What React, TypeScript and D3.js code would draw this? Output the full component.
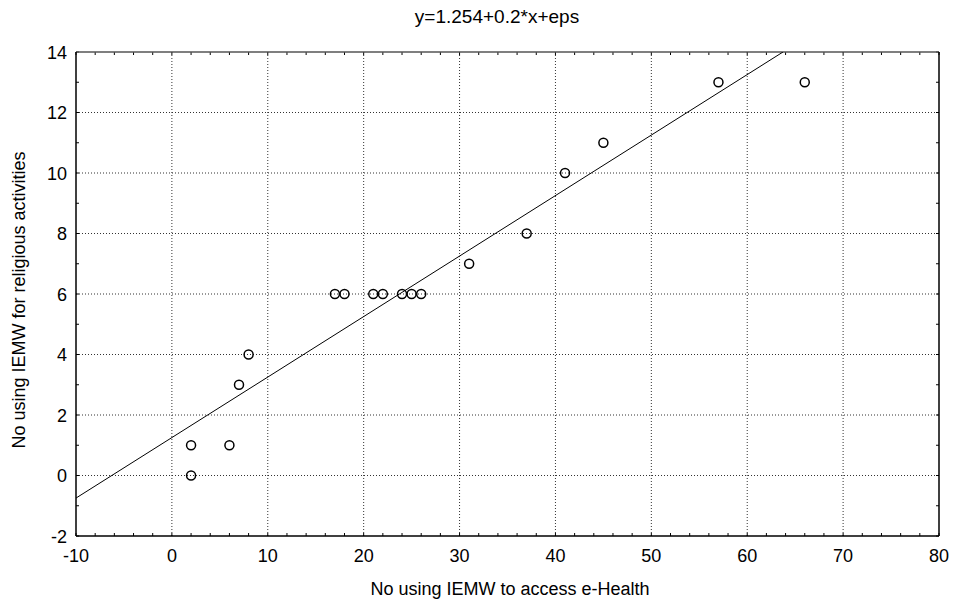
import React from "react";
import * as d3 from "d3";

const xValues = [2, 2, 6, 7, 8, 17, 18, 21, 22, 24, 25, 26, 31, 37, 41, 45, 57, 66];
const yValues = [1, 0, 1, 3, 4, 6, 6, 6, 6, 6, 6, 6, 7, 8, 10, 11, 13, 13];
const xTicks = [-10, 0, 10, 20, 30, 40, 50, 60, 70, 80];
const yTicks = [-2, 0, 2, 4, 6, 8, 10, 12, 14];
const intercept = 1.254;
const slope = 0.2;
const title = "y=1.254+0.2*x+eps";
const xLabel = "No using IEMW to access e-Health";
const yLabel = "No using IEMW for religious activities";

export default function App() {
  const W = 954, H = 605;
  const L = 76, R = 939, T = 52, B = 536;
  const x = d3.scaleLinear().domain([-10, 80]).range([L, R]);
  const y = d3.scaleLinear().domain([-2, 14]).range([B, T]);
  const font = "Liberation Sans, Arial, sans-serif";
  const xMinor = d3.range(-10, 80.01, 2);
  const yMinor = d3.range(-2, 14.01, 1);
  const xEnd = (14 - intercept) / slope;
  const lineGen = d3.line<number>().x((d) => x(d)).y((d) => y(intercept + slope * d));
  return (
    <svg width={W} height={H} style={{ position: "absolute", left: 0, top: 0, background: "#fff" }}>
      <defs>
        <clipPath id="plot">
          <rect x={L} y={T} width={R - L} height={B - T} />
        </clipPath>
      </defs>
      <rect x={0} y={0} width={W} height={H} fill="#fff" />
      {xTicks.slice(1, -1).map((t) => (
        <line key={"gx" + t} x1={x(t)} x2={x(t)} y1={T} y2={B} stroke="#333" strokeWidth={1} strokeDasharray="1,2" />
      ))}
      {yTicks.slice(1, -1).map((t) => (
        <line key={"gy" + t} x1={L} x2={R} y1={y(t)} y2={y(t)} stroke="#333" strokeWidth={1} strokeDasharray="1,2" />
      ))}
      {xMinor.map((t) => (
        <g key={"tx" + t}>
          <line x1={x(t)} x2={x(t)} y1={B} y2={B - 3} stroke="#000" />
          <line x1={x(t)} x2={x(t)} y1={T} y2={T + 3} stroke="#000" />
        </g>
      ))}
      {yMinor.map((t) => (
        <g key={"ty" + t}>
          <line x1={L} x2={L + 3} y1={y(t)} y2={y(t)} stroke="#000" />
          <line x1={R} x2={R - 3} y1={y(t)} y2={y(t)} stroke="#000" />
        </g>
      ))}
      <line x1={L} x2={R} y1={T} y2={T} stroke="#555" strokeWidth={1.5} />
      <line x1={R} x2={R} y1={T} y2={B} stroke="#000" strokeWidth={1.5} />
      <line x1={L} x2={L} y1={T} y2={B} stroke="#000" strokeWidth={1.5} />
      <line x1={L} x2={R} y1={B} y2={B} stroke="#000" strokeWidth={1.5} />
      <path d={lineGen([-10, xEnd]) || ""} fill="none" stroke="#000" strokeWidth={1} clipPath="url(#plot)" />
      {xValues.map((v, i) => (
        <circle key={"p" + i} cx={x(v)} cy={y(yValues[i])} r={4.5} fill="none" stroke="#000" strokeWidth={1.5} />
      ))}
      {xTicks.map((t) => (
        <text key={"lx" + t} x={x(t)} y={562} textAnchor="middle" fontFamily={font} fontSize={18} fill="#000">
          {t}
        </text>
      ))}
      {yTicks.map((t) => (
        <text key={"ly" + t} x={67} y={y(t) + 6.5} textAnchor="end" fontFamily={font} fontSize={18} fill="#000">
          {t}
        </text>
      ))}
      <text x={497} y={23} textAnchor="middle" fontFamily={font} fontSize={19} fill="#000">{title}</text>
      <text x={510} y={595} textAnchor="middle" fontFamily={font} fontSize={18} fill="#000">{xLabel}</text>
      <text transform={`translate(25,300) rotate(-90)`} textAnchor="middle" fontFamily={font} fontSize={18} fill="#000">{yLabel}</text>
    </svg>
  );
}
